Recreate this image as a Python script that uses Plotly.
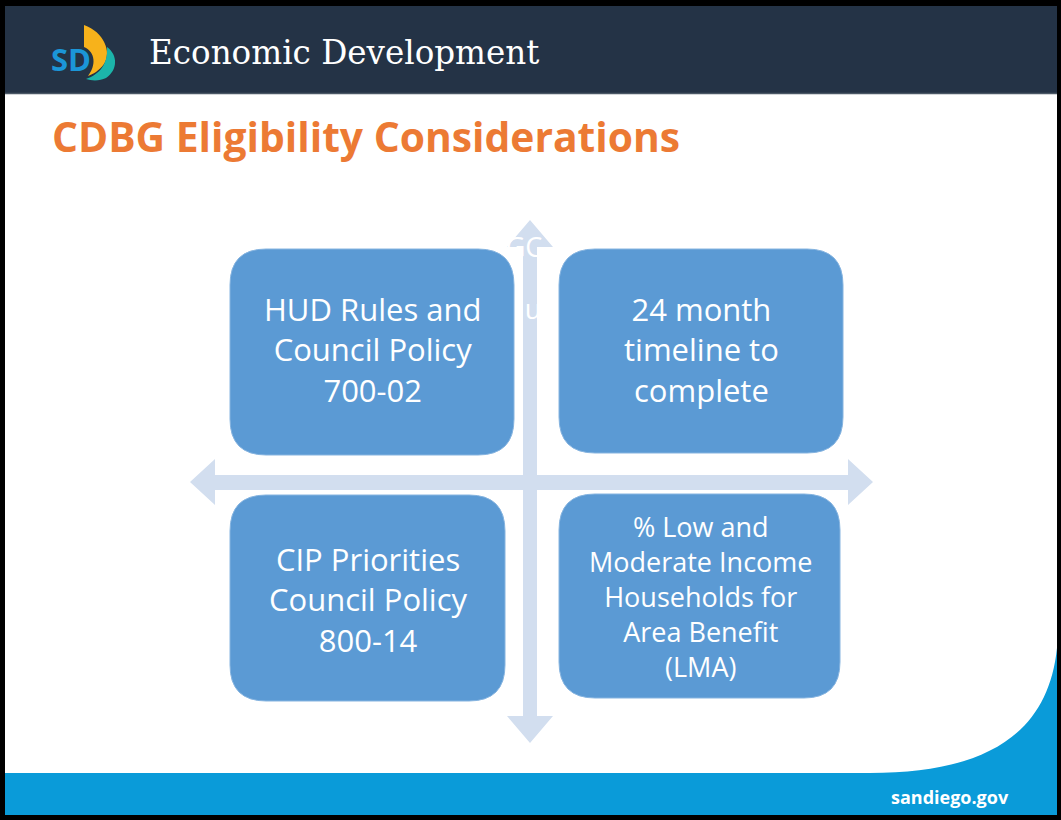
import plotly.graph_objects as go

W, H = 1061, 820

header_title = "Economic Development"
slide_title = "CDBG Eligibility Considerations"
footer_text = "sandiego.gov"
logo_text = "SD"

box_tl_lines = ["HUD Rules and", "Council Policy", "700-02"]
box_tr_lines = ["24 month", "timeline to", "complete"]
box_bl_lines = ["CIP Priorities", "Council Policy", "800-14"]
box_br_lines = ["% Low and", "Moderate Income", "Households for", "Area Benefit", "(LMA)"]
ghost_lines = ["GC", "u"]

NAVY = "#243346"
BOX = "#5B9AD4"
ARROW = "#D2DEEF"
ORANGE = "#EC7A34"
FOOT = "#0A9BD9"

fig = go.Figure()


def rrect(x0, y0, x1, y1, r):
    return (f"M {x0+r},{y0} L {x1-r},{y0} Q {x1},{y0} {x1},{y0+r} "
            f"L {x1},{y1-r} Q {x1},{y1} {x1-r},{y1} L {x0+r},{y1} "
            f"Q {x0},{y1} {x0},{y1-r} L {x0},{y0+r} Q {x0},{y0} {x0+r},{y0} Z")


shapes = []
# page background white + black border
shapes.append(dict(type="rect", x0=0, y0=0, x1=W, y1=H, fillcolor="black", line_width=0, layer="below"))
shapes.append(dict(type="rect", x0=5, y0=6, x1=1057, y1=815, fillcolor="white", line_width=0, layer="below"))
# header
shapes.append(dict(type="rect", x0=5, y0=6, x1=1057, y1=93, fillcolor=NAVY, line_width=0, layer="below"))
shapes.append(dict(type="line", x0=5, y0=93.5, x1=1057, y1=93.5, line=dict(color="#4B5866", width=1.5), layer="below"))
# footer band with curved corner
shapes.append(dict(type="path",
                   path="M 5,773 L 870,773 C 985,773 1048,735 1057,648 L 1057,815 L 5,815 Z",
                   fillcolor=FOOT, line_width=0, layer="below"))
# logo sail (yellow/orange) and wave (teal)
shapes.append(dict(type="path",
                   path="M 84,25 C 104,32 112,52 104,64 C 99,71 93,74 88,76 C 96,66 96,52 84,47 Z",
                   fillcolor="#F7B21B", line_width=0, layer="below"))
shapes.append(dict(type="path",
                   path="M 107,47 C 118,55 118,70 106,78 C 100,81 92,81 86,79 C 100,74 108,64 107,47 Z",
                   fillcolor="#1CB5AA", line_width=0, layer="below"))
# cross arrows
shapes.append(dict(type="path",
                   path="M 190,482 L 215,459 L 215,475 L 848,475 L 848,459 L 873,482 L 848,505 L 848,490 L 215,490 L 215,505 Z",
                   fillcolor=ARROW, line_width=0, layer="below"))
shapes.append(dict(type="path",
                   path="M 530,220 L 553,247 L 537,247 L 537,716 L 553,716 L 530,743 L 507,716 L 523,716 L 523,247 L 507,247 Z",
                   fillcolor=ARROW, line_width=0, layer="below"))
# boxes (above the ghost text trace)
boxes = [(230, 249, 514, 455), (559, 249, 843, 453), (230, 495, 505, 701), (559, 494, 840, 698)]
for (x0, y0, x1, y1) in boxes:
    shapes.append(dict(type="path", path=rrect(x0, y0, x1, y1, 36), fillcolor=BOX,
                       line=dict(color="#86B4E0", width=1), layer="above"))

# ghost text behind the boxes
fig.add_trace(go.Scatter(x=[524, 533], y=[250, 312], mode="text", text=ghost_lines,
                         textfont=dict(family="Open Sans", size=27, color="white"),
                         hoverinfo="skip", showlegend=False))

ann = []
ann.append(dict(x=147, y=53, text=header_title, xanchor="left", yanchor="middle", showarrow=False,
                font=dict(family="DejaVu Serif", size=32.6, color="white")))
ann.append(dict(x=49, y=59, text=f"<b>{logo_text}</b>", xanchor="left", yanchor="middle", showarrow=False,
                font=dict(family="Open Sans", size=31, color="#1B96D8")))
ann.append(dict(x=50, y=136, text=f"<b>{slide_title}</b>", xanchor="left", yanchor="middle", showarrow=False,
                font=dict(family="Open Sans", size=40.8, color=ORANGE)))
ann.append(dict(x=1011, y=797, text=f"<b>{footer_text}</b>", xanchor="right", yanchor="middle", showarrow=False,
                font=dict(family="Open Sans", size=18, color="white")))

box_specs = [
    (box_tl_lines, 372, 349, 31),
    (box_tr_lines, 701, 349, 31),
    (box_bl_lines, 368, 599, 31),
    (box_br_lines, 700, 596, 27),
]
for lines, cx, cy, fs in box_specs:
    ann.append(dict(x=cx, y=cy, text="<br>".join(lines), xanchor="center", yanchor="middle",
                    align="center", showarrow=False,
                    font=dict(family="Open Sans", size=fs, color="white")))

fig.update_layout(
    width=W, height=H, margin=dict(l=0, r=0, t=0, b=0),
    paper_bgcolor="white", plot_bgcolor="white",
    xaxis=dict(range=[0, W], visible=False, fixedrange=True),
    yaxis=dict(range=[H, 0], visible=False, fixedrange=True),
    shapes=shapes, annotations=ann, showlegend=False,
)
fig.write_html("out.html", config={"displayModeBar": False},
               post_script="document.body.style.margin='0px';")
